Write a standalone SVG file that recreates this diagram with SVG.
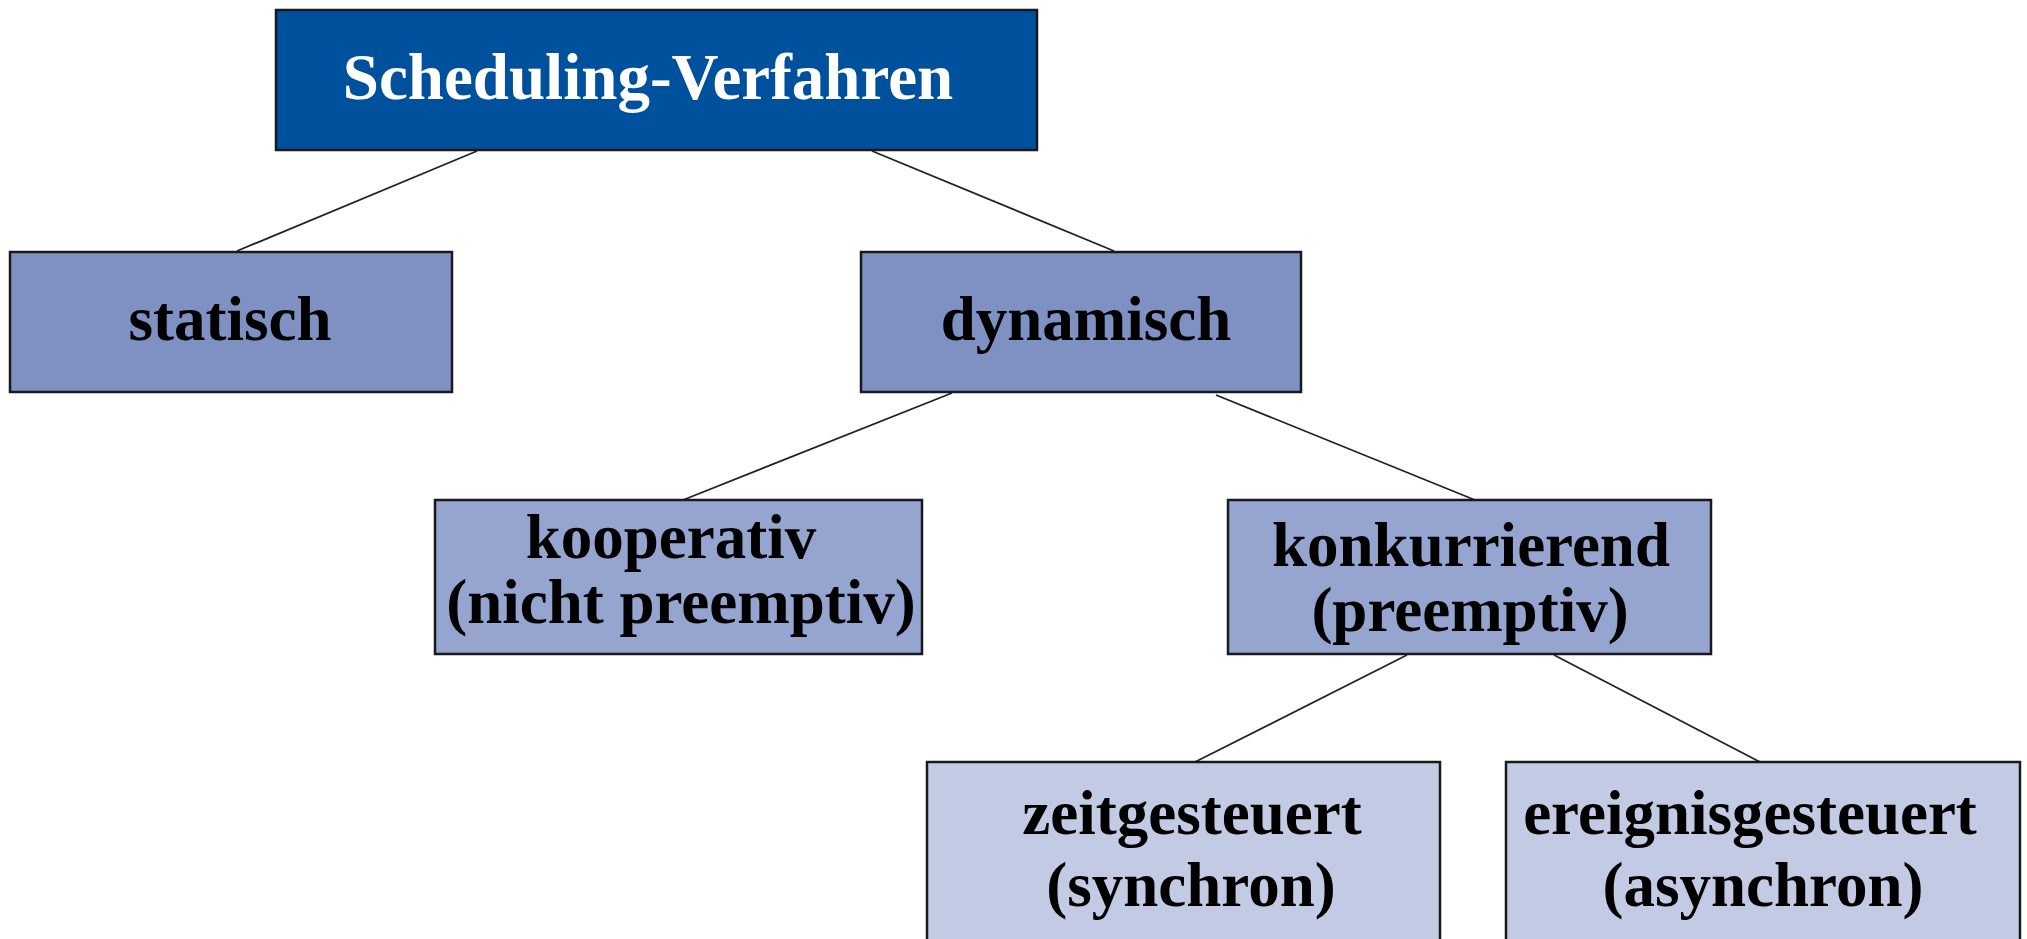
<svg xmlns="http://www.w3.org/2000/svg" width="2027" height="939" viewBox="0 0 2027 939">
<style>
.box{stroke:#1a1a1a;stroke-width:2.5}
.l1{fill:#00519D}
.l2{fill:#7F90C3}
.l3{fill:#95A5D0}
.l4{fill:#C3CAE4}
.t{font-family:"Liberation Serif","Times New Roman",serif;font-weight:bold;font-size:63px;text-anchor:middle;fill:#000}
.w{fill:#fff;font-size:65px}
.c{stroke:#222;stroke-width:1.8;fill:none}
</style>
<rect width="2027" height="939" fill="#fff"/>
<g id="connectors">
<line class="c" x1="477" y1="151" x2="237" y2="251"/>
<line class="c" x1="872" y1="151" x2="1114" y2="251"/>
<line class="c" x1="952" y1="393" x2="683" y2="500"/>
<line class="c" x1="1216" y1="395" x2="1475" y2="500"/>
<line class="c" x1="1407" y1="655" x2="1195" y2="762"/>
<line class="c" x1="1554" y1="655" x2="1760" y2="762"/>
</g>
<g id="node-scheduling">
<rect class="box l1" x="276" y="10" width="761" height="140"/>
<text class="t w" x="648" y="99">Scheduling-Verfahren</text>
</g>
<g id="node-statisch">
<rect class="box l2" x="10" y="252" width="442" height="140"/>
<text class="t" x="230" y="340">statisch</text>
</g>
<g id="node-dynamisch">
<rect class="box l2" x="861" y="252" width="440" height="140"/>
<text class="t" x="1086" y="340">dynamisch</text>
</g>
<g id="node-kooperativ">
<rect class="box l3" x="435" y="500" width="487" height="154"/>
<text class="t" x="671" y="558">kooperativ</text>
<text class="t" x="681" y="623">(nicht preemptiv)</text>
</g>
<g id="node-konkurrierend">
<rect class="box l3" x="1228" y="500" width="483" height="154"/>
<text class="t" x="1471" y="566">konkurrierend</text>
<text class="t" x="1470" y="631">(preemptiv)</text>
</g>
<g id="node-zeitgesteuert">
<rect class="box l4" x="927" y="762" width="513" height="200"/>
<text class="t" x="1192" y="834">zeitgesteuert</text>
<text class="t" x="1191" y="906">(synchron)</text>
</g>
<g id="node-ereignisgesteuert">
<rect class="box l4" x="1506" y="762" width="514" height="200"/>
<text class="t" x="1750" y="834">ereignisgesteuert</text>
<text class="t" x="1763" y="906">(asynchron)</text>
</g>
</svg>
